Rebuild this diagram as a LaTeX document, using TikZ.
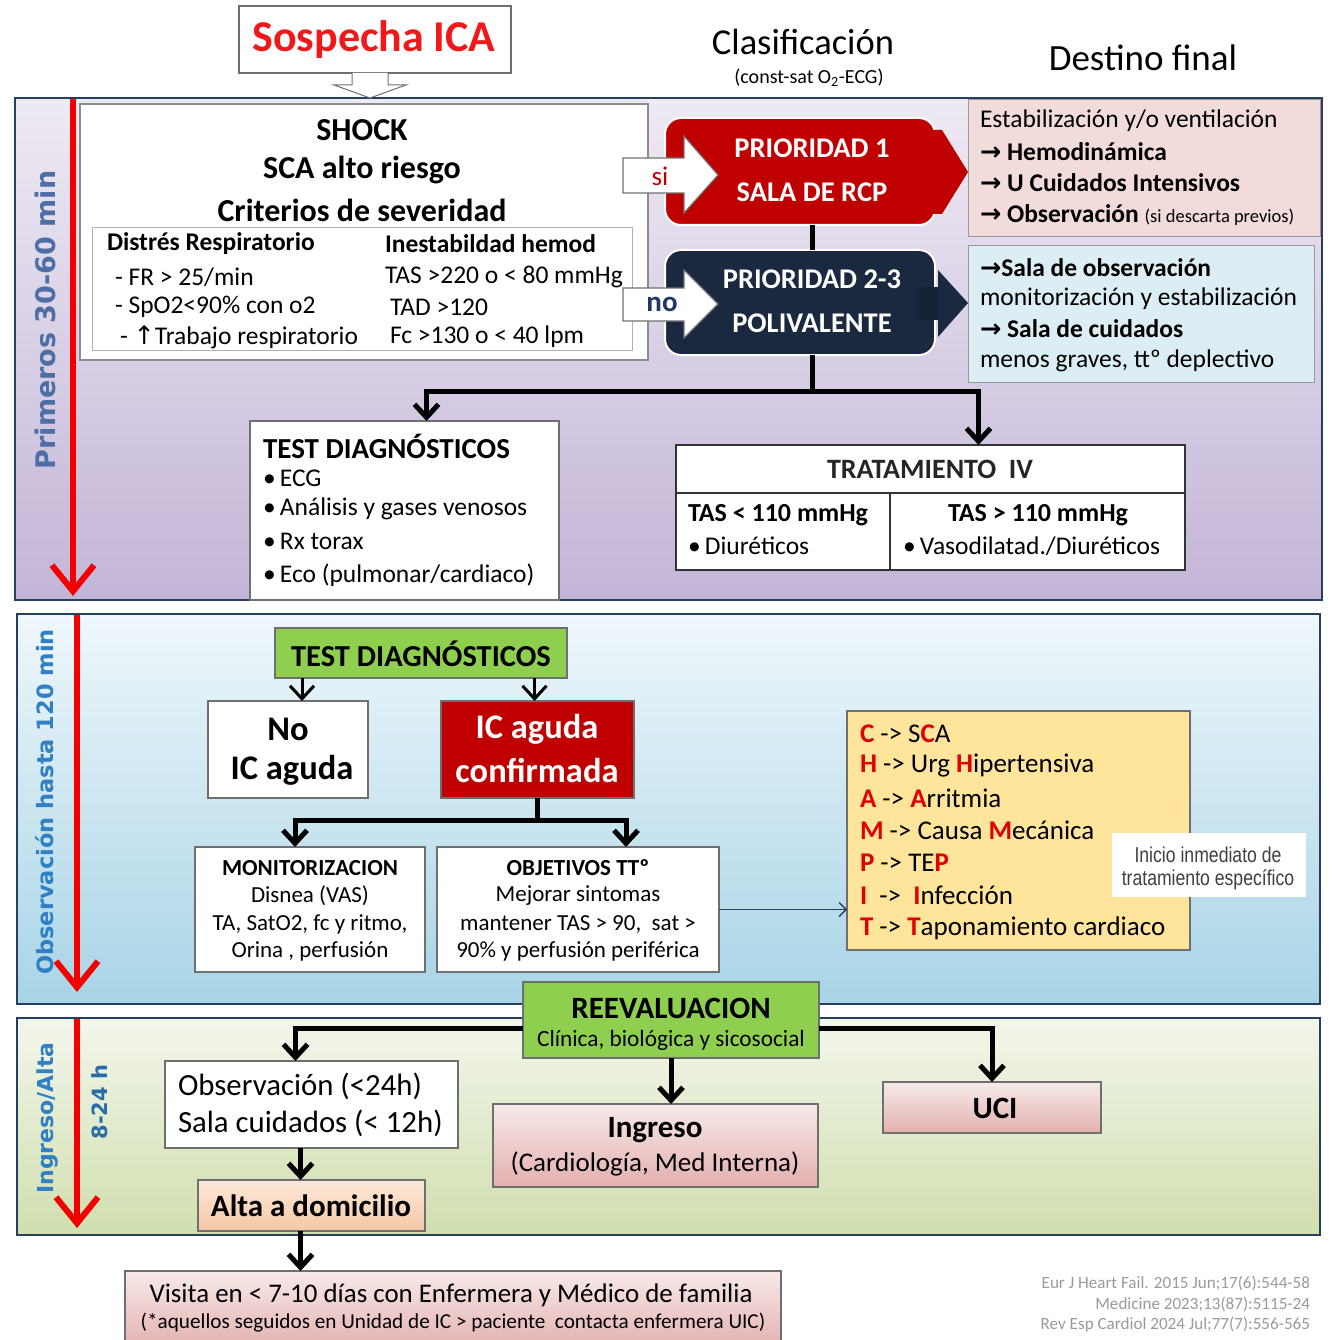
\documentclass[tikz,border=0pt]{standalone}
\usepackage{fontspec}
\setmainfont{Carlito}
\newfontfamily\verdfont{DejaVu Sans}
\newfontfamily\symfont{DejaVu Sans}
\newfontfamily\narrowfont[FakeStretch=0.82]{Liberation Sans}
\usetikzlibrary{arrows.meta,calc}

\definecolor{frame}{HTML}{243F60}
\definecolor{boxgray}{HTML}{6F6F6F}
\definecolor{lightgray}{HTML}{B0B0B0}
\definecolor{titlered}{HTML}{F01818}
\definecolor{timered}{HTML}{F20000}
\definecolor{darkred}{HTML}{C00000}
\definecolor{navybox}{HTML}{1A2940}
\definecolor{pinkbox}{HTML}{F2DCDB}
\definecolor{pinkdeep}{HTML}{E3AFAF}
\definecolor{bluebox}{HTML}{DBEEF4}
\definecolor{greenbox}{HTML}{8FCF50}
\definecolor{yellowbox}{HTML}{FFE49C}
\definecolor{peachtop}{HTML}{FCE9DB}
\definecolor{peachbot}{HTML}{F6C7A4}
\definecolor{steel}{HTML}{4E6FA6}
\definecolor{obsblue}{HTML}{2F80C4}
\definecolor{champred}{HTML}{E00000}
\definecolor{refgray}{HTML}{9A9A9A}
\definecolor{nogo}{HTML}{1F3864}
\definecolor{notegray}{HTML}{404040}
\definecolor{lavtop}{HTML}{EEEAF3}
\definecolor{lavbot}{HTML}{C3B5D7}
\definecolor{skytop}{HTML}{EFF7FB}
\definecolor{skybot}{HTML}{A8D4E6}
\definecolor{sagetop}{HTML}{F3F6EC}
\definecolor{sagebot}{HTML}{D0DFAE}

\newcommand\fsz[1]{\fontsize{#1}{#1}\selectfont}
\newcommand\boxnode[6]{\node[#6,minimum width={#4-#2},minimum height={#5-#3}] (#1) at ({(#2+#4)/2},{(#3+#5)/2}) {};}
\newcommand\ra{{\symfont\bfseries →}}
\newcommand\rl[1]{\textcolor{champred}{\textbf{#1}}}

\begin{document}
\begin{tikzpicture}[x=1pt,y=-1pt,
  every node/.style={inner sep=0pt,outer sep=0pt},
  box/.style={draw=boxgray,line width=1.2pt,fill=white,rectangle},
  panel/.style={draw=frame,line width=2.5pt,rectangle},
  lbl/.style={rotate=90,font=\verdfont\bfseries},
  timearrow/.style={draw=timered,line width=6pt,-{Straight Barb[length=26pt,width=42pt]}},
  conn/.style={draw=black,line width=5pt},
  tipped/.style={-{Straight Barb[length=13pt,width=24pt]}},
  thinconn/.style={draw=frame,line width=1.3pt,-{Straight Barb[length=7pt,width=14pt]}},
  lt/.style={anchor=west},
]
\useasboundingbox (0,0) rectangle (1333,1340);
\clip (0,0) rectangle (1333,1340);
\fill[white] (0,0) rectangle (1333,1340);

% ---------- header ----------
\boxnode{start}{239}{6}{511}{73}{box}
\node[font=\bfseries\fsz{44},text=titlered] (starttxt) at (374,40) {Sospecha ICA};
\node[font=\fsz{36.5}] (clas) at (803,42) {Clasificación};
\node[font=\fsz{20}] (classub) at (809,78) {(const-sat O\textsubscript{2}-ECG)};
\node[font=\fsz{37}] (dest) at (1143,58) {Destino final};

% ---------- panel 1 : first 30-60 min ----------
\boxnode{panelA}{15}{98}{1322}{600}{panel,top color=lavtop,bottom color=lavbot}
\draw[draw=boxgray,line width=1pt,fill=white]
  (352,73) -- (352,85) -- (334,85) -- (370,98) -- (406,85) -- (388,85) -- (388,73);
\draw[timearrow] (73,99) -- (73,596);
\node[lbl,font=\verdfont\bfseries\fsz{27},text=steel] (labA) at (45,320) {Primeros 30-60 min};

% severity criteria
\boxnode{shock}{80}{104}{648}{360}{box,draw=boxgray!80}
\node[font=\bfseries\fsz{32}] (shock1) at (362,130) {SHOCK};
\node[font=\bfseries\fsz{32}] (shock2) at (362,170) {SCA alto riesgo};
\node[font=\bfseries\fsz{32}] (shock3) at (362,210) {Criterios de severidad};
\boxnode{crit}{92}{228}{632}{350}{draw=lightgray,line width=1pt}
\node[lt,font=\bfseries\fsz{25.5}] (c11) at (107,244) {Distrés Respiratorio};
\node[lt,font=\bfseries\fsz{25.5}] (c12) at (385,244) {Inestabildad hemod};
\node[lt,font=\fsz{25.5}] (c21) at (115,277) {- FR > 25/min};
\node[lt,font=\fsz{25.5}] (c22) at (385,277) {TAS >220 o < 80 mmHg};
\node[lt,font=\fsz{25.5}] (c31) at (115,307) {- SpO2<90\% con o2};
\node[lt,font=\fsz{25.5}] (c32) at (390,307) {TAD >120};
\node[lt,font=\fsz{25.5}] (c41) at (120,337) {- {\symfont ↑}Trabajo respiratorio};
\node[lt,font=\fsz{25.5}] (c42) at (390,337) {Fc >130 o < 40 lpm};

% priority boxes
\node[rounded corners=16pt,fill=darkred,draw=white,line width=2pt,minimum width=270,minimum height=107] (p1) at (800,171.5) {};
\fill[darkred] (930,130) -- (942,130) -- (968,172) -- (942,214) -- (930,214) -- cycle;
\node[font=\bfseries\fsz{28.5},text=white] (p1a) at (812,148) {PRIORIDAD 1};
\node[font=\bfseries\fsz{28.5},text=white] (p1b) at (812,192) {SALA DE RCP};
\node[rounded corners=16pt,fill=navybox,draw=white,line width=2pt,minimum width=270,minimum height=105] (p23) at (800,302.5) {};
\fill[navybox!85!black] (916,287) rectangle (940,320);
\fill[navybox] (938,270) -- (968,303) -- (938,337) -- cycle;
\node[font=\bfseries\fsz{28.5},text=white] (p23a) at (812,279) {PRIORIDAD 2-3};
\node[font=\bfseries\fsz{28.5},text=white] (p23b) at (812,323) {POLIVALENTE};
\draw[conn] ([xshift=12]p1.south) -- ([xshift=12]p23.north);

% yes / no arrows
\draw[draw=boxgray,line width=1.2pt,fill=white] (623,158) -- (684,158) -- (684,136) -- (718,175) -- (684,213) -- (684,193) -- (623,193) -- cycle;
\node[font=\fsz{27},text=darkred] (si) at (660,176) {si};
\draw[draw=boxgray,line width=1.2pt,fill=white] (623,288) -- (684,288) -- (684,270) -- (718,304) -- (684,338) -- (684,321) -- (623,321) -- cycle;
\node[font=\bfseries\fsz{29},text=nogo] (no) at (662,304) {no};

% destinations
\boxnode{destA}{968}{100}{1320}{237}{draw=boxgray!70,line width=1pt,fill=pinkbox}
\node[lt,font=\fsz{25.5}] (dA1) at (980,121) {Estabilización y/o ventilación};
\node[lt,font=\bfseries\fsz{25.5}] (dA2) at (980,152) {\ra\ Hemodinámica};
\node[lt,font=\bfseries\fsz{25.5}] (dA3) at (980,183) {\ra\ U Cuidados Intensivos};
\node[lt,font=\bfseries\fsz{25.5}] (dA4) at (980,215) {\ra\ Observación {\mdseries\fsz{18.5}(si descarta previos)}};
\boxnode{destB}{968}{246}{1314}{382}{draw=boxgray!70,line width=1pt,fill=bluebox}
\node[lt,font=\bfseries\fsz{25.5}] (dB1) at (980,268) {\ra Sala de observación};
\node[lt,font=\fsz{25.5}] (dB2) at (980,299) {monitorización y estabilización};
\node[lt,font=\bfseries\fsz{25.5}] (dB3) at (980,329) {\ra\ Sala de cuidados};
\node[lt,font=\fsz{25.5}] (dB4) at (980,361) {menos graves, ttº deplectivo};

% tests and treatment
\boxnode{testA}{250}{421}{559}{600}{box}
\node[lt,font=\bfseries\fsz{29}] (tA0) at (263,446) {TEST DIAGNÓSTICOS};
\node[lt,font=\fsz{25.5}] (tA1) at (263,478) {\textbullet\,ECG};
\node[lt,font=\fsz{25.5}] (tA2) at (263,509) {\textbullet\,Análisis y gases venosos};
\node[lt,font=\fsz{25.5}] (tA3) at (263,541) {\textbullet\,Rx torax};
\node[lt,font=\fsz{25.5}] (tA4) at (263,575) {\textbullet\,Eco (pulmonar/cardiaco)};
\boxnode{trat}{676}{445}{1185}{493}{box,draw=black!80}
\boxnode{tratL}{676}{493}{890}{570}{box,draw=black!80}
\boxnode{tratR}{890}{493}{1185}{570}{box,draw=black!80}
\node[font=\bfseries\fsz{28},text=black!85] (tr0) at (930,469) {TRATAMIENTO\ \ IV};
\node[lt,font=\bfseries\fsz{26}] (tr1) at (688,515) {TAS < 110 mmHg};
\node[lt,font=\fsz{25.5}] (tr2) at (688,546) {\textbullet\,Diuréticos};
\node[font=\bfseries\fsz{26}] (tr3) at (1038,515) {TAS > 110 mmHg};
\node[lt,font=\fsz{25.5}] (tr4) at (903,546) {\textbullet\,Vasodilatad./Diuréticos};

\coordinate (jA) at (812,391);
\draw[conn] ([xshift=12]p23.south) -- (jA);
\draw[conn,tipped] (jA) -| ([xshift=22]testA.north);
\draw[conn,tipped] (jA) -| ([xshift=48]trat.north);

% ---------- panel 2 : observation ----------
\boxnode{panelB}{17}{614}{1320}{1004}{panel,top color=skytop,bottom color=skybot}
\draw[timearrow] (77,615) -- (77,992);
\node[lbl,font=\verdfont\bfseries\fsz{22.5},text=obsblue] (labB) at (45,802) {Observación hasta 120 min};

\boxnode{testB}{275}{628}{567}{678}{draw=boxgray,line width=1.2pt,fill=greenbox}
\node[font=\bfseries\fsz{30.5}] (tB) at (421,654) {TEST DIAGNÓSTICOS};
\boxnode{noic}{208}{701}{368}{798}{box}
\node[font=\bfseries\fsz{34.5}] (noic1) at (288,729) {No};
\node[font=\bfseries\fsz{34.5}] (noic2) at (292,770) {IC aguda};
\boxnode{icac}{441}{701}{634}{798}{draw=boxgray,line width=1.2pt,fill=darkred}
\node[font=\bfseries\fsz{34.5},text=white] (icac1) at (537,729) {IC aguda};
\node[font=\bfseries\fsz{34.5},text=white] (icac2) at (537,770) {confirmada};
\draw[draw=black,line width=3pt,tipped] ([xshift=14]noic.north |- testB.south) -- ([xshift=14]noic.north);
\draw[draw=black,line width=3pt,tipped] ([xshift=-3]icac.north |- testB.south) -- ([xshift=-3]icac.north);

\boxnode{mon}{195}{847}{425}{972}{box}
\node[font=\bfseries\fsz{23}] (mon0) at (310,868) {MONITORIZACION};
\node[font=\fsz{23}] (mon1) at (310,896) {Disnea (VAS)};
\node[font=\fsz{23}] (mon2) at (310,924) {TA, SatO2, fc y ritmo,};
\node[font=\fsz{23}] (mon3) at (310,951) {Orina , perfusión};
\boxnode{obj}{437}{847}{719}{972}{box}
\node[font=\bfseries\fsz{23}] (obj0) at (578,868) {OBJETIVOS TTº};
\node[font=\fsz{23}] (obj1) at (578,896) {Mejorar sintomas};
\node[font=\fsz{23}] (obj2) at (578,924) {mantener TAS > 90,\ \ sat >};
\node[font=\fsz{23}] (obj3) at (578,951) {90\% y perfusión periférica};

\coordinate (jB) at (537,820);
\draw[conn] (icac.south -| jB) -- (jB);
\draw[conn,tipped] (jB) -| ([xshift=-15]mon.north);
\draw[conn,tipped] (jB) -| ([xshift=48]obj.north);

\boxnode{champ}{847}{711}{1190}{950}{draw=boxgray,line width=1.2pt,fill=yellowbox}
\node[lt,font=\fsz{27}] (ch1) at (860,734) {\rl{C} -> S\rl{C}A};
\node[lt,font=\fsz{27}] (ch2) at (860,766) {\rl{H} -> Urg \rl{H}ipertensiva};
\node[lt,font=\fsz{27}] (ch3) at (860,798) {\rl{A} -> \rl{A}rritmia};
\node[lt,font=\fsz{27}] (ch4) at (860,830) {\rl{M} -> Causa \rl{M}ecánica};
\node[lt,font=\fsz{27}] (ch5) at (860,863) {\rl{P} -> TE\rl{P}};
\node[lt,font=\fsz{27}] (ch6) at (860,895) {\rl{I}\ \ ->\ \ \rl{I}nfección};
\node[lt,font=\fsz{27}] (ch7) at (860,928) {\rl{T} -> \rl{T}aponamiento cardiaco};
\draw[thinconn] (obj.east) -- (obj.east -| champ.west);

\boxnode{note}{1112}{833}{1306}{897}{fill=white}
\node[font=\narrowfont\fsz{21.5},text=notegray] (note1) at (1208,855) {Inicio inmediato de};
\node[font=\narrowfont\fsz{21.5},text=notegray] (note2) at (1208,880) {tratamiento específico};

% ---------- panel 3 : admission / discharge ----------
\boxnode{panelC}{17}{1018}{1320}{1235}{panel,top color=sagetop,bottom color=sagebot}
\draw[timearrow] (77,1019) -- (77,1228);
\node[lbl,font=\verdfont\bfseries\fsz{22},text=obsblue] (labC) at (48,1118) {Ingreso/Alta};
\node[lbl,font=\verdfont\bfseries\fsz{21},text=obsblue!85!black] (labD) at (100,1102) {8-24 h};

\boxnode{reev}{523}{982}{819}{1058}{draw=boxgray,line width=1.2pt,fill=greenbox}
\node[font=\bfseries\fsz{31}] (reev1) at (671,1008) {REEVALUACION};
\node[font=\fsz{23.3}] (reev2) at (671,1040) {Clínica, biológica y sicosocial};

\boxnode{obs}{165}{1061}{458}{1148}{box}
\node[lt,font=\fsz{30.8}] (obs1) at (178,1086) {Observación (<24h)};
\node[lt,font=\fsz{30.8}] (obs2) at (178,1123) {Sala cuidados (< 12h)};
\boxnode{alta}{198}{1180}{425}{1231}{draw=boxgray,line width=1.2pt,top color=peachtop,bottom color=peachbot}
\node[font=\bfseries\fsz{31}] (alta1) at (311,1206) {Alta a domicilio};
\boxnode{ingr}{493}{1104}{818}{1187}{draw=boxgray,line width=1.2pt,top color=pinkbox!60!white,bottom color=pinkdeep}
\node[font=\bfseries\fsz{31}] (ingr1) at (655,1130) {Ingreso};
\node[font=\fsz{27}] (ingr2) at (655,1164) {(Cardiología, Med Interna)};
\boxnode{uci}{883}{1082}{1101}{1133}{draw=boxgray,line width=1.2pt,top color=pinkbox!60!white,bottom color=pinkdeep}
\node[font=\bfseries\fsz{31}] (uci1) at (995,1108) {UCI};

\draw[conn,tipped] ([yshift=-8]reev.west) -| ([xshift=-16]obs.north);
\draw[conn,tipped] ([yshift=-8]reev.east) -| (uci.north);
\draw[conn,tipped] (reev.south) -- (reev.south |- ingr.north);
\draw[conn,tipped] ([xshift=-11]alta.north |- obs.south) -- ([xshift=-11]alta.north);

% ---------- follow-up ----------
\boxnode{visit}{125}{1271}{781}{1350}{draw=boxgray,line width=1.2pt,top color=pinkbox!60!white,bottom color=pinkdeep}
\node[font=\fsz{26.9}] (vis1) at (451,1295) {Visita en < 7-10 días con Enfermera y Médico de familia};
\node[font=\fsz{21.2}] (vis2) at (453,1323) {(*aquellos seguidos en Unidad de IC > paciente\ \ contacta enfermera UIC)};
\draw[conn,tipped] ([xshift=-11]alta.south) -- ([xshift=-11]alta.south |- visit.north);

\node[anchor=east,font=\fsz{17.1},text=refgray] (ref1) at (1310,1283) {Eur J Heart Fail. 2015 Jun;17(6):544-58};
\node[anchor=east,font=\fsz{17.1},text=refgray] (ref2) at (1310,1304) {Medicine 2023;13(87):5115-24};
\node[anchor=east,font=\fsz{17.1},text=refgray] (ref3) at (1310,1325) {Rev Esp Cardiol 2024 Jul;77(7):556-565};
\end{tikzpicture}
\end{document}
